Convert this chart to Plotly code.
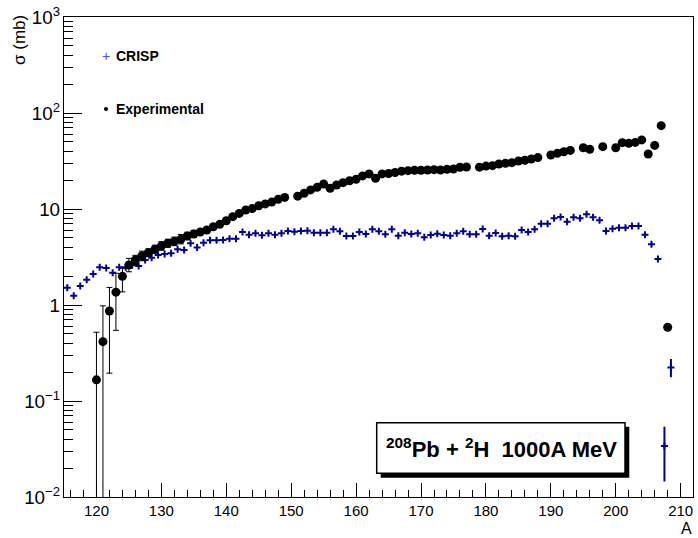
import plotly.graph_objects as go

# ---------------- data ----------------
# CRISP calculation (bin centres A+0.5)
crisp_A = [a + 0.5 for a in range(115, 209)]
crisp_sigma = [
    1.51, 1.25, 1.58, 1.83, 2.10, 2.48, 2.43, 2.17, 2.47, 2.47,   # 115-124
    2.60, 2.55, 2.94, 3.11, 3.32, 3.40, 3.45, 3.80, 3.74, 4.39,   # 125-134
    3.96, 4.46, 4.72, 4.72, 4.75, 4.91, 4.91, 5.76, 5.40, 5.58,   # 135-144
    5.32, 5.58, 5.40, 5.58, 5.90, 5.80, 5.90, 5.94, 5.66, 5.66,   # 145-154
    5.66, 6.14, 5.85, 5.23, 5.23, 5.76, 5.49, 6.14, 5.85, 5.45,   # 155-164
    6.14, 5.27, 5.66, 5.49, 5.58, 5.07, 5.36, 5.53, 5.36, 5.27,   # 165-174
    5.58, 5.85, 5.45, 5.45, 6.19, 5.27, 5.62, 5.20, 5.27, 5.20,   # 175-184
    6.04, 5.76, 6.14, 7.00, 7.03, 8.00, 8.26, 7.38, 8.19, 8.00,   # 185-194
    8.80, 8.19, 7.62, 5.90, 6.24, 6.39, 6.39, 6.65, 6.65, 5.40,   # 195-204
    4.29, 3.01, 0.034, 0.224,                                     # 205-208
]
crisp_err_hi = {207.5: 0.020, 208.5: 0.050}
crisp_err_lo = {207.5: 0.0195, 208.5: 0.047}

# Experimental data
exp_A = [120, 121, 122, 123, 124, 125, 126, 127, 128, 129,
         130, 131, 132, 133, 134, 135, 136, 137, 138, 139,
         140, 141, 142, 143, 144, 145, 146, 147, 148, 149,
         151, 152, 153, 154, 155, 156, 157, 158, 159, 160,
         161, 162, 163, 164, 165, 166, 167, 168, 169, 170,
         171, 172, 173, 174, 175, 176, 177, 179, 180, 181,
         182, 183, 184, 185, 186, 187, 188, 190, 191, 192,
         193, 195, 196, 198, 200, 201, 202, 203, 204, 205,
         206, 207, 208]
exp_sigma = [0.166, 0.415, 0.866, 1.36, 1.99, 2.61, 2.94, 3.24, 3.50, 3.80,
             4.12, 4.39, 4.60, 4.83, 5.23, 5.49, 5.76, 6.04, 6.54, 6.92,
             7.55, 8.32, 9.00, 9.77, 10.1, 10.8, 11.3, 11.8, 12.6, 13.2,
             13.6, 14.6, 15.8, 16.8, 18.2, 16.4, 17.8, 18.8, 19.7, 20.4,
             22.1, 23.2, 20.9, 23.2, 23.4, 24.0, 24.8, 25.1, 25.3, 25.3,
             25.5, 25.7, 25.5, 25.9, 26.1, 27.2, 27.4, 27.3, 28.0, 28.3,
             29.4, 29.9, 30.4, 31.6, 32.2, 33.2, 34.3, 36.5, 38.0, 39.5,
             40.8, 43.5, 41.9, 44.6, 43.5, 49.1, 48.3, 49.4, 52.4, 37.4,
             46.0, 73.8, 0.586]
exp_err_hi = {120: 0.354, 121: 0.565, 122: 0.66, 123: 0.78, 124: 0.42, 125: 0.45,
              126: 0.35, 127: 0.40, 128: 0.35, 129: 0.40, 130: 0.45, 131: 0.45,
              132: 0.50, 133: 0.60, 134: 0.50, 135: 0.50}
exp_err_lo = {120: 0.1655, 121: 0.4145, 122: 0.671, 123: 0.815, 124: 0.62, 125: 0.39,
              126: 0.30, 127: 0.35, 128: 0.30, 129: 0.35, 130: 0.40, 131: 0.40,
              132: 0.45, 133: 0.50, 134: 0.45, 135: 0.45}

legend_labels = ["CRISP", "Experimental"]
box_label = "<b><sup>208</sup>Pb + <sup>2</sup>H \u00a01000A MeV</b>"
x_title = "A"
y_title = "σ (mb)"

# ---------------- figure ----------------
FONT = "Liberation Sans, Arial, Helvetica, sans-serif"
BLUE = "#000099"

fig = go.Figure()

fig.add_trace(go.Scatter(
    x=crisp_A, y=crisp_sigma, mode="markers", name=legend_labels[0],
    marker=dict(symbol="cross-thin", size=5, color=BLUE,
                line=dict(width=2, color=BLUE)),
    error_y=dict(type="data", symmetric=False,
                 array=[crisp_err_hi.get(a, 0) for a in crisp_A],
                 arrayminus=[crisp_err_lo.get(a, 0) for a in crisp_A],
                 color=BLUE, thickness=2, width=0),
    showlegend=False,
))

fig.add_trace(go.Scatter(
    x=exp_A, y=exp_sigma, mode="markers", name=legend_labels[1],
    marker=dict(symbol="circle", size=9, color="black"),
    error_y=dict(type="data", symmetric=False,
                 array=[exp_err_hi.get(a, 0) for a in exp_A],
                 arrayminus=[exp_err_lo.get(a, 0) for a in exp_A],
                 color="black", thickness=1, width=3),
    showlegend=False,
))

W, H = 698, 538
L, R, T, B = 64, 5, 17, 41
pw, ph = W - L - R, H - T - B


def px(xp):
    return (xp - L) / pw


def py(yp):
    return (H - B - yp) / ph


annotations = [
    dict(text=y_title, x=px(19), y=py(13), xref="paper", yref="paper",
         xanchor="center", yanchor="top", textangle=-90, showarrow=False,
         font=dict(family=FONT, size=17, color="black")),
    dict(text=x_title, x=px(686), y=py(528), xref="paper", yref="paper",
         xanchor="center", yanchor="middle", showarrow=False,
         font=dict(family=FONT, size=16, color="black")),
    dict(text="+", x=px(106), y=py(56), xref="paper", yref="paper",
         xanchor="center", yanchor="middle", showarrow=False,
         font=dict(family=FONT, size=14, color="#4848ff")),
    dict(text="<b>%s</b>" % legend_labels[0], x=px(114), y=py(56),
         xref="paper", yref="paper", xanchor="left", yanchor="middle",
         showarrow=False, font=dict(family=FONT, size=14, color="black")),
    dict(text="<b>%s</b>" % legend_labels[1], x=px(114), y=py(109),
         xref="paper", yref="paper", xanchor="left", yanchor="middle",
         showarrow=False, font=dict(family=FONT, size=14, color="black")),
    dict(text=box_label, x=px(501), y=py(448), xref="paper", yref="paper",
         xanchor="center", yanchor="middle", showarrow=False,
         font=dict(family=FONT, size=22, color="black")),
]

shapes = [
    # legend dot
    dict(type="circle", xref="paper", yref="paper",
         x0=px(104), x1=px(108), y0=py(111), y1=py(107),
         fillcolor="black", line=dict(width=0)),
    # box shadow
    dict(type="rect", xref="paper", yref="paper", layer="above",
         x0=px(380.7), x1=px(629.3), y0=py(477.7), y1=py(426.7),
         fillcolor="black", line=dict(width=0)),
    # box
    dict(type="rect", xref="paper", yref="paper", layer="above",
         x0=px(376.7), x1=px(625), y0=py(473.3), y1=py(422.7),
         fillcolor="white", line=dict(width=1.5, color="black")),
]

fig.update_layout(
    width=W, height=H, autosize=False,
    margin=dict(l=L, r=R, t=T, b=B, pad=0),
    paper_bgcolor="white", plot_bgcolor="white",
    font=dict(family=FONT, color="black"),
    showlegend=False,
    annotations=annotations, shapes=shapes,
    xaxis=dict(range=[115, 211.9], showgrid=False, zeroline=False,
               showline=True, linecolor="black", linewidth=1, mirror=True,
               ticks="inside", ticklen=14, tickwidth=1, tickcolor="black",
               tick0=0, dtick=10,
               minor=dict(ticks="inside", ticklen=7, tickcolor="black",
                          tickwidth=1, dtick=2, showgrid=False),
               tickfont=dict(family=FONT, size=15, color="black")),
    yaxis=dict(type="log", range=[-2, 3], showgrid=False, zeroline=False,
               showline=True, linecolor="black", linewidth=1, mirror=True,
               ticks="inside", ticklen=18, tickwidth=1, tickcolor="black",
               dtick=1, exponentformat="power",
               minor=dict(ticks="inside", ticklen=9, tickcolor="black",
                          tickwidth=1, dtick="D1", showgrid=False),
               tickfont=dict(family=FONT, size=15, color="black")),
)

fig.write_html(
    "out.html",
    config={"displayModeBar": False, "staticPlot": True},
    post_script="document.body.style.margin='0px';"
                "document.body.style.overflow='hidden';",
)
